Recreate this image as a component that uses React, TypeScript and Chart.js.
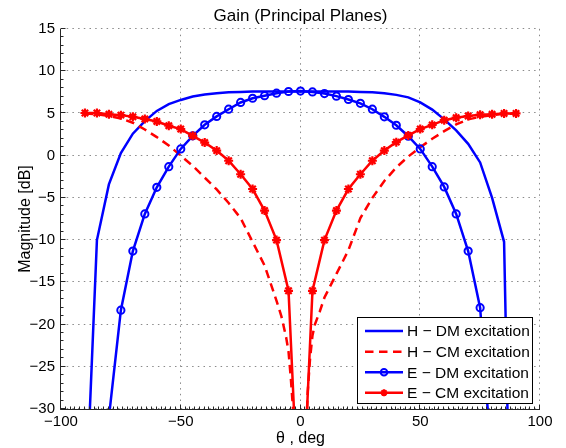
import React, { useEffect, useRef } from 'react';
import { Chart, registerables } from 'chart.js';

Chart.register(...registerables);

const FONT = '"Liberation Sans", Arial, Helvetica, sans-serif';

const titleText = 'Gain (Principal Planes)';
const xLabel = 'θ , deg';
const yLabel = 'Magnitude [dB]';
const xTicks = [-100, -50, 0, 50, 100];
const yTicks = [-30, -25, -20, -15, -10, -5, 0, 5, 10, 15];
const seriesLabels = ['H − DM excitation', 'H − CM excitation', 'E − DM excitation', 'E − CM excitation'];

// H-plane, DM excitation (solid blue)
const thetaHDM = [-90, -85, -80, -75, -70, -65, -60, -55, -50, -45, -40, -35, -30, -25, -20, -15, -10, -5, 0, 5, 10, 15, 20, 25, 30, 35, 40, 45, 50, 55, 60, 65, 70, 75, 80, 85, 90];
const hDM = [-44, -10, -3.4, 0.3, 2.6, 4.1, 5.3, 6.1, 6.6, 7.0, 7.25, 7.4, 7.5, 7.55, 7.6, 7.6, 7.6, 7.6, 7.6, 7.6, 7.6, 7.6, 7.6, 7.55, 7.5, 7.4, 7.2, 6.9, 6.3, 5.45, 4.3, 3.0, 1.4, -0.8, -5.0, -10.2, -80];

// H-plane, CM excitation (dashed red)
const thetaHCM = [-90, -85, -80, -75, -70, -65, -60, -55, -50, -45, -40, -35, -30, -25, -20, -15, -10, -8, -6, -5, -4, -3, -2, 2, 3, 4, 5, 6, 8, 10, 15, 20, 25, 30, 35, 40, 45, 50, 55, 60, 65, 70, 75, 80, 85, 90];
const hCM = [5.0, 4.9, 4.7, 4.4, 3.9, 3.1, 2.2, 1.2, 0.0, -1.2, -2.6, -4.0, -5.6, -7.4, -10.2, -13.0, -17.2, -19.0, -21.5, -23.2, -26.5, -30.5, -38, -36, -28, -24, -21.3, -20, -18.5, -16.8, -14.0, -11.2, -7.4, -5.0, -3.0, -1.4, -0.1, 1.0, 2.0, 2.9, 3.7, 4.3, 4.6, 4.8, 4.95, 5.0];

// E-plane, DM excitation (blue, circles)
const thetaEDM = [-80, -75, -70, -65, -60, -55, -50, -45, -40, -35, -30, -25, -20, -15, -10, -5, 0, 5, 10, 15, 20, 25, 30, 35, 40, 45, 50, 55, 60, 65, 70, 75, 80];
const eDM = [-31, -18.3, -11.3, -6.9, -3.75, -1.3, 0.8, 2.35, 3.65, 4.65, 5.5, 6.3, 6.8, 7.1, 7.4, 7.6, 7.65, 7.55, 7.35, 7.05, 6.65, 6.2, 5.5, 4.6, 3.6, 2.3, 0.8, -1.3, -3.7, -6.9, -11.3, -18.0, -37];

// E-plane, CM excitation (red, stars)
const thetaECM = [-90, -85, -80, -75, -70, -65, -60, -55, -50, -45, -40, -35, -30, -25, -20, -15, -10, -5, 0, 5, 10, 15, 20, 25, 30, 35, 40, 45, 50, 55, 60, 65, 70, 75, 80, 85, 90];
const eCM = [5.05, 5.05, 4.9, 4.8, 4.6, 4.35, 4.05, 3.55, 3.15, 2.35, 1.55, 0.6, -0.6, -2.2, -3.95, -6.5, -10.0, -16.0, -47, -16.0, -10.0, -6.5, -3.95, -2.2, -0.6, 0.6, 1.6, 2.4, 3.15, 3.65, 4.2, 4.5, 4.7, 4.85, 4.9, 5.0, 5.0];

const BLUE = '#0000ff';
const RED = '#ff0000';
const LW = 2.5;

const pts = (xs: number[], ys: number[]) => xs.map((x, i) => ({ x, y: ys[i] }));
const fmt = (v: number) => (v < 0 ? '\u2212' + Math.abs(v) : String(v));

const drawStar = (ctx: CanvasRenderingContext2D, cx: number, cy: number, r: number) => {
  ctx.beginPath();
  for (let k = 0; k < 4; k++) {
    const a = (k * Math.PI) / 4;
    ctx.moveTo(cx - r * Math.cos(a), cy - r * Math.sin(a));
    ctx.lineTo(cx + r * Math.cos(a), cy + r * Math.sin(a));
  }
  ctx.stroke();
};

const matlabPlugin = {
  id: 'matlabLook',
  beforeDatasetsDraw(chart: any) {
    const { ctx, chartArea: a, scales } = chart;
    const x = scales.x;
    const y = scales.y;
    ctx.save();
    ctx.strokeStyle = '#8a8a8a';
    ctx.lineWidth = 1;
    ctx.setLineDash([1.5, 4.2]);
    for (const v of xTicks) {
      const px = Math.round(x.getPixelForValue(v)) - 0.5;
      ctx.beginPath();
      ctx.moveTo(px, a.top);
      ctx.lineTo(px, a.bottom);
      ctx.stroke();
    }
    for (const v of yTicks) {
      const py = Math.round(y.getPixelForValue(v)) - 0.5;
      ctx.beginPath();
      ctx.moveTo(a.left, py);
      ctx.lineTo(a.right, py);
      ctx.stroke();
    }
    ctx.restore();
  },
  afterDatasetsDraw(chart: any) {
    const { ctx, chartArea: a, scales } = chart;
    const x = scales.x;
    const y = scales.y;
    ctx.save();
    ctx.setLineDash([]);
    ctx.strokeStyle = '#262626';
    ctx.lineWidth = 1;
    const L = Math.round(a.left) - 0.5;
    const B = Math.round(a.bottom) + 0.5;
    ctx.beginPath();
    ctx.moveTo(L, a.top);
    ctx.lineTo(L, B);
    ctx.lineTo(a.right, B);
    ctx.stroke();
    // y ticks (major + minor), inward
    ctx.beginPath();
    for (let v = -30; v <= 15; v += 1) {
      const py = Math.round(y.getPixelForValue(v)) - 0.5;
      const len = v % 5 === 0 ? 5 : 3;
      ctx.moveTo(L, py);
      ctx.lineTo(L + len, py);
    }
    for (let v = -100; v <= 100; v += 2) {
      const px = Math.round(x.getPixelForValue(v)) - 0.5;
      const len = v % 50 === 0 ? 5 : 3;
      ctx.moveTo(px, B);
      ctx.lineTo(px, B - len);
    }
    ctx.stroke();

    // Legend
    const bx = 357.5, by = 317.5, bw = 175, bh = 86;
    ctx.fillStyle = '#ffffff';
    ctx.fillRect(bx, by, bw, bh);
    ctx.strokeStyle = '#000000';
    ctx.lineWidth = 1;
    ctx.strokeRect(bx, by, bw, bh);
    const rowY = [331, 351.7, 372.3, 392.8];
    const styles = [
      { color: BLUE, dash: [] as number[], marker: 'none' },
      { color: RED, dash: [8.5, 5.5], marker: 'none' },
      { color: BLUE, dash: [] as number[], marker: 'circle' },
      { color: RED, dash: [] as number[], marker: 'star' },
    ];
    ctx.font = `15.5px ${FONT}`;
    ctx.textBaseline = 'middle';
    ctx.textAlign = 'left';
    seriesLabels.forEach((lab, i) => {
      const s = styles[i];
      const yy = rowY[i];
      ctx.strokeStyle = s.color;
      ctx.lineWidth = LW;
      ctx.setLineDash(s.dash);
      ctx.beginPath();
      ctx.moveTo(365, yy);
      ctx.lineTo(403, yy);
      ctx.stroke();
      ctx.setLineDash([]);
      if (s.marker === 'circle') {
        ctx.lineWidth = 2;
        ctx.beginPath();
        ctx.arc(384, yy, 3.3, 0, Math.PI * 2);
        ctx.stroke();
      } else if (s.marker === 'star') {
        ctx.lineWidth = 2;
        drawStar(ctx, 384, yy, 3.5);
      }
      ctx.fillStyle = '#000000';
      ctx.fillText(lab, 407, yy + 1);
    });

    // Titles
    const cx = (a.left + a.right) / 2;
    ctx.fillStyle = '#000000';
    ctx.textAlign = 'center';
    ctx.textBaseline = 'alphabetic';
    ctx.font = `17px ${FONT}`;
    ctx.fillText(titleText, cx, 21);
    ctx.font = `16px ${FONT}`;
    ctx.fillText(xLabel, cx, 443);
    ctx.save();
    ctx.translate(30, (a.top + a.bottom) / 2);
    ctx.rotate(-Math.PI / 2);
    ctx.fillText(yLabel, 0, 0);
    ctx.restore();
    ctx.restore();
  },
};

export default function App() {
  const ref = useRef<HTMLCanvasElement | null>(null);
  useEffect(() => {
    if (!ref.current) return;
    const chart = new Chart(ref.current, {
      type: 'line',
      data: {
        datasets: [
          {
            label: seriesLabels[0],
            data: pts(thetaHDM, hDM),
            borderColor: BLUE,
            backgroundColor: BLUE,
            borderWidth: LW,
            pointRadius: 0,
            tension: 0,
            order: 3,
          },
          {
            label: seriesLabels[1],
            data: pts(thetaHCM, hCM),
            borderColor: RED,
            backgroundColor: RED,
            borderWidth: LW,
            borderDash: [8.5, 5.5],
            pointRadius: 0,
            tension: 0,
            order: 2,
          },
          {
            label: seriesLabels[2],
            data: pts(thetaEDM, eDM),
            borderColor: BLUE,
            backgroundColor: 'rgba(0,0,0,0)',
            borderWidth: LW,
            pointStyle: 'circle',
            pointRadius: 3.6,
            pointBorderWidth: 2,
            pointBorderColor: BLUE,
            pointBackgroundColor: 'rgba(0,0,0,0)',
            tension: 0,
            order: 1,
          },
          {
            label: seriesLabels[3],
            data: pts(thetaECM, eCM),
            borderColor: RED,
            backgroundColor: RED,
            borderWidth: LW,
            pointStyle: 'star',
            pointRadius: 4.5,
            pointBorderWidth: 2.2,
            pointBorderColor: RED,
            tension: 0,
            order: 0,
          },
        ],
      },
      options: {
        responsive: false,
        animation: false,
        devicePixelRatio: 1,
        events: [],
        layout: { padding: { left: 0, right: 26, top: 29, bottom: 0 } },
        plugins: {
          legend: { display: false },
          title: { display: false },
          tooltip: { enabled: false },
        },
        scales: {
          x: {
            type: 'linear',
            min: -100,
            max: 100,
            grid: { display: false, drawTicks: false },
            border: { display: false },
            afterBuildTicks: (s: any) => {
              s.ticks = xTicks.map((v) => ({ value: v }));
            },
            afterFit: (s: any) => {
              s.height = 39;
            },
            ticks: {
              autoSkip: false,
              maxRotation: 0,
              padding: 4,
              color: '#000000',
              font: { family: FONT, size: 15 },
              callback: (v: any) => fmt(Number(v)),
            },
          },
          y: {
            type: 'linear',
            min: -30,
            max: 15,
            grid: { display: false, drawTicks: false },
            border: { display: false },
            afterBuildTicks: (s: any) => {
              s.ticks = yTicks.map((v) => ({ value: v }));
            },
            afterFit: (s: any) => {
              s.width = 61;
            },
            ticks: {
              autoSkip: false,
              padding: 6,
              color: '#000000',
              font: { family: FONT, size: 15 },
              callback: (v: any) => fmt(Number(v)),
            },
          },
        },
      } as any,
      plugins: [matlabPlugin as any],
    });
    return () => chart.destroy();
  }, []);
  return (
    <div style={{ position: 'fixed', left: 0, top: 0, width: 566, height: 448, background: '#ffffff' }}>
      <canvas ref={ref} width={566} height={448} style={{ display: 'block' }} />
    </div>
  );
}
